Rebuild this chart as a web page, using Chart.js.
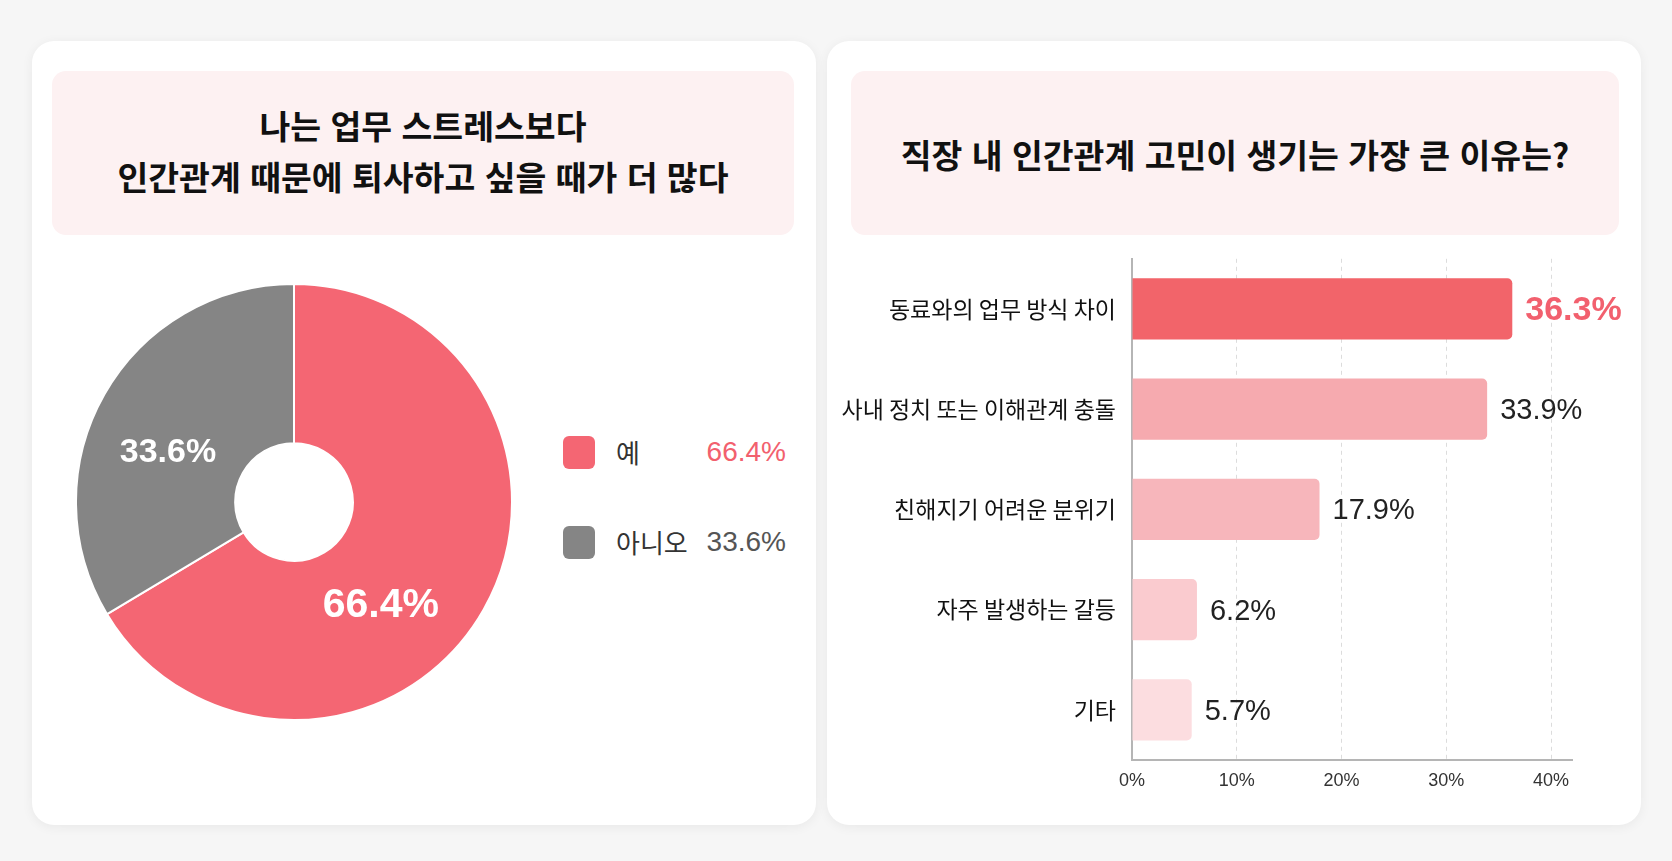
<!DOCTYPE html>
<html lang="ko">
<head>
<meta charset="utf-8">
<title>직장 내 인간관계 설문</title>
<script src="https://cdn.jsdelivr.net/npm/chart.js@4.4.1/dist/chart.umd.min.js"></script>
<style>
  html, body { margin: 0; padding: 0; }
  body {
    width: 1672px; height: 861px; position: relative; overflow: hidden;
    background: #f6f6f6;
    font-family: "Noto Sans CJK KR", "Noto Sans", sans-serif;
  }
  .card {
    position: absolute; background: #fff; border-radius: 22px;
    box-shadow: 0 2px 12px rgba(0,0,0,0.06);
  }
  .title-box {
    position: absolute; background: #fdf1f2; border-radius: 14px;
    display: flex; align-items: center; justify-content: center; text-align: center;
    font-weight: 700; font-size: 33.5px; line-height: 51px; color: #111;
    box-sizing: border-box; padding-bottom: 6px;
  }
  .chart-wrap { position: absolute; }
  .legend-row { position: absolute; left: 563px; width: 223px; height: 40px; }
  .legend-row .sw { position: absolute; left: 0; top: 4px; width: 32px; height: 33px; border-radius: 6px; }
  .legend-row .lb { position: absolute; left: 53px; top: 0; line-height: 40px; font-size: 26px; color: #333; }
  .legend-row .val { position: absolute; right: 0; top: 0; line-height: 40px; font-size: 28px; font-family: "Liberation Sans", Arial, sans-serif; }
</style>
</head>
<body>
<div class="card" style="left:32px; top:41px; width:784px; height:784px;"></div>
<div class="card" style="left:827px; top:41px; width:814px; height:784px;"></div>

<div class="title-box" style="left:52px; top:71px; width:742px; height:164px;">
  <div>나는 업무 스트레스보다<br>인간관계 때문에 퇴사하고 싶을 때가 더 많다</div>
</div>
<div class="title-box" style="left:851px; top:71px; width:768px; height:164px; padding-bottom:0;">
  <div>직장 내 인간관계 고민이 생기는 가장 큰 이유는?</div>
</div>

<div class="chart-wrap" style="left:75px; top:283px; width:438px; height:438px;">
  <canvas id="donut_chart"></canvas>
</div>
<div id="donut_legend"></div>

<div class="chart-wrap" style="left:836px; top:229px; width:790px; height:571px;">
  <canvas id="bar_chart"></canvas>
</div>

<script>
// Left chart: yes / no answer
const pieLabels = ['예', '아니오'];
const pieValues = [66.4, 33.6];
const pieColors = ['#f46673', '#858585'];
const pieValueColors = ['#f2606e', '#555555'];

// Right chart: reasons
const barLabels = [
  '동료와의 업무 방식 차이',
  '사내 정치 또는 이해관계 충돌',
  '친해지기 어려운 분위기',
  '자주 발생하는 갈등',
  '기타'
];
const barValues = [36.3, 33.9, 17.9, 6.2, 5.7];
const barColors = ['#f2646a', '#f6aaaf', '#f7b6bb', '#facbcf', '#fcdde0'];
const xTickValues = [0, 10, 20, 30, 40];

const numFont = '"Liberation Sans", Arial, sans-serif';
const krFont = '"Noto Sans CJK KR", sans-serif';

// legend for the donut, built from the arrays
const legendBox = document.getElementById('donut_legend');
const legendTops = [432, 522];
pieLabels.forEach((lab, i) => {
  const row = document.createElement('div');
  row.className = 'legend-row';
  row.style.top = legendTops[i] + 'px';
  row.innerHTML = '<div class="sw" style="background:' + pieColors[i] + '"></div>' +
    '<div class="lb">' + lab + '</div>' +
    '<div class="val" style="color:' + pieValueColors[i] + '">' + pieValues[i].toFixed(1) + '%</div>';
  legendBox.appendChild(row);
});

// white percentage labels inside the slices
const sliceLabels = {
  id: 'sliceLabels',
  afterDatasetsDraw(chart) {
    const ctx = chart.ctx;
    const arcs = chart.getDatasetMeta(0).data;
    const shift = [0.36, -0.14];   // nudges the label a little off the mid angle
    const sizes = [41, 34];
    arcs.forEach((arc, i) => {
      const p = arc.getProps(['x', 'y', 'startAngle', 'endAngle', 'innerRadius', 'outerRadius'], true);
      const a = (p.startAngle + p.endAngle) / 2 + shift[i];
      const r = (p.innerRadius + p.outerRadius) / 2 - 3;
      ctx.save();
      ctx.fillStyle = '#ffffff';
      ctx.font = 'bold ' + sizes[i] + 'px ' + numFont;
      ctx.textAlign = 'center';
      ctx.textBaseline = 'middle';
      ctx.fillText(pieValues[i].toFixed(1) + '%', p.x + Math.cos(a) * r, p.y + Math.sin(a) * r);
      ctx.restore();
    });
  }
};

new Chart(document.getElementById('donut_chart'), {
  type: 'doughnut',
  data: {
    labels: pieLabels,
    datasets: [{
      data: pieValues,
      backgroundColor: pieColors,
      borderColor: '#ffffff',
      borderWidth: 2
    }]
  },
  options: {
    responsive: true,
    maintainAspectRatio: false,
    animation: false,
    cutout: '27%',
    layout: { padding: 0 },
    plugins: { legend: { display: false }, tooltip: { enabled: false } }
  },
  plugins: [sliceLabels]
});

// value labels at the end of each bar
const barValueLabels = {
  id: 'barValueLabels',
  afterDatasetsDraw(chart) {
    const ctx = chart.ctx;
    chart.getDatasetMeta(0).data.forEach((bar, i) => {
      ctx.save();
      ctx.textAlign = 'left';
      ctx.textBaseline = 'middle';
      if (i === 0) {
        ctx.font = 'bold 34px ' + numFont;
        ctx.fillStyle = '#f2606e';
      } else {
        ctx.font = '29px ' + numFont;
        ctx.fillStyle = '#222222';
      }
      ctx.fillText(barValues[i].toFixed(1) + '%', bar.x + 13, bar.y + 2);
      ctx.restore();
    });
  }
};

new Chart(document.getElementById('bar_chart'), {
  type: 'bar',
  data: {
    labels: barLabels,
    datasets: [{
      data: barValues,
      backgroundColor: barColors,
      borderRadius: 5,
      borderSkipped: 'start',
      barPercentage: 0.61,
      categoryPercentage: 1.0
    }]
  },
  options: {
    indexAxis: 'y',
    responsive: true,
    maintainAspectRatio: false,
    animation: false,
    layout: { padding: { top: 9, right: 54, left: 0, bottom: 0 } },
    plugins: { legend: { display: false }, tooltip: { enabled: false } },
    scales: {
      x: {
        min: 0,
        max: 42,
        afterBuildTicks(scale) {
          scale.ticks = xTickValues.map(v => ({ value: v }));
        },
        afterFit(scale) { scale.height = 40; },
        ticks: {
          padding: 10,
          color: '#333',
          font: { family: numFont, size: 18 },
          callback: v => v + '%'
        },
        grid: { color: '#dcdcdc', lineWidth: 1, drawTicks: false },
        border: { display: true, color: '#b5b5b5', width: 2, dash: [4, 4] }
      },
      y: {
        afterFit(scale) { scale.width = 296; },
        ticks: {
          padding: 16,
          color: '#111',
          font: { family: krFont, size: 23 }
        },
        grid: { display: false, drawTicks: false },
        border: { display: true, color: '#b5b5b5', width: 2 }
      }
    }
  },
  plugins: [barValueLabels]
});
</script>
</body>
</html>
